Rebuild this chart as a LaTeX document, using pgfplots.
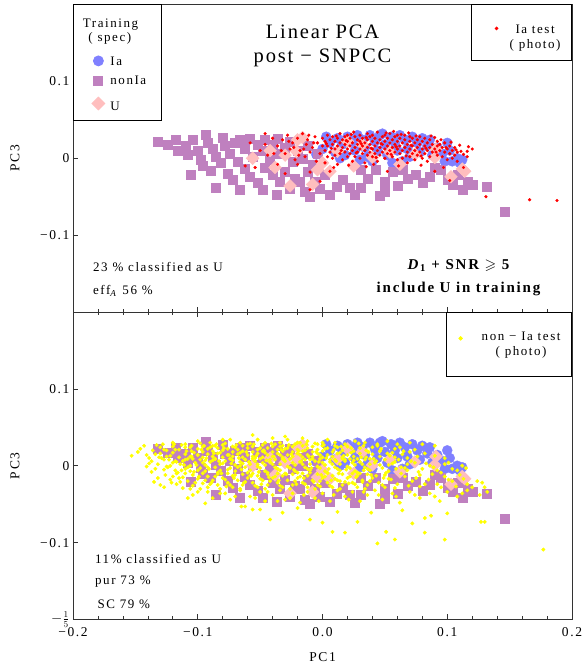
\documentclass[border=0pt]{standalone}
\usepackage{pgfplots}
\pgfplotsset{compat=1.18}
\usepackage{pgfplotstable}
\usepackage{amssymb}
\usepackage{array}
\usepackage{fontspec}
\setmainfont{Liberation Serif}[LetterSpace=12]
\newfontfamily\titlefont{Liberation Serif}[LetterSpace=9]
\definecolor{iacol}{RGB}{128,128,255}
\definecolor{noniacol}{RGB}{191,128,191}
\definecolor{ucol}{RGB}{255,190,190}
\definecolor{ytest}{RGB}{255,255,0}

\pgfplotstableread{
x y
-0.132 0.022
-0.124 0.017
-0.118 0.024
-0.116 0.010
-0.110 0.016
-0.108 0.004
-0.104 0.024
-0.100 0.010
-0.098 -0.002
-0.094 0.031
-0.092 0.020
-0.088 0.012
-0.086 0.002
-0.080 0.027
-0.078 0.016
-0.074 0.006
-0.070 0.020
-0.068 -0.004
-0.066 0.024
-0.062 0.012
-0.058 0.026
-0.056 0.002
-0.052 0.018
-0.048 0.010
-0.046 0.024
-0.042 -0.002
-0.040 0.018
-0.036 0.026
-0.034 0.006
-0.030 0.014
-0.026 0.022
-0.024 -0.004
-0.020 0.010
-0.016 0.000
-0.012 0.016
-0.008 -0.008
-0.004 0.006
-0.106 -0.021
-0.096 -0.010
-0.090 -0.016
-0.086 -0.038
-0.082 -0.006
-0.076 -0.020
-0.072 -0.028
-0.066 -0.041
-0.062 -0.014
-0.058 -0.024
-0.052 -0.032
-0.048 -0.041
-0.046 -0.012
-0.040 -0.022
-0.037 -0.047
-0.034 -0.030
-0.030 -0.018
-0.026 -0.040
-0.022 -0.026
-0.018 -0.030
-0.014 -0.044
-0.012 -0.018
-0.010 -0.050
-0.006 -0.030
-0.002 -0.040
0.002 -0.022
0.006 -0.047
0.011 -0.037
0.016 -0.028
0.022 -0.038
0.026 -0.048
0.031 -0.015
0.031 -0.038
0.036 -0.026
0.043 -0.015
0.046 -0.049
0.050 -0.043
0.050 -0.030
0.056 -0.017
0.060 -0.036
0.064 -0.015
0.068 -0.026
0.075 -0.021
0.080 -0.032
0.086 -0.024
0.090 -0.012
0.095 -0.015
0.100 -0.028
0.104 -0.034
0.108 -0.022
0.112 -0.041
0.116 -0.030
0.120 -0.034
0.132 -0.037
0.146 -0.069
}\nonIaTab

\pgfplotstableread{
x y
-0.005 0.005
0.000 0.012
0.003 0.028
0.006 0.020
0.010 0.008
0.012 0.026
0.014 0.000
0.016 0.018
0.018 0.004
0.020 0.028
0.024 0.022
0.026 0.010
0.028 0.030
0.030 -0.002
0.032 0.024
0.034 0.014
0.036 0.002
0.038 0.030
0.040 -0.004
0.042 0.022
0.044 0.010
0.046 0.030
0.048 0.032
0.050 0.018
0.052 0.004
0.055 0.028
0.056 -0.006
0.058 0.020
0.060 0.010
0.062 0.030
0.064 -0.004
0.066 0.024
0.068 0.012
0.070 0.002
0.072 0.028
0.076 0.020
0.078 0.008
0.080 0.026
0.084 0.016
0.086 0.024
0.088 0.004
0.092 0.014
0.096 0.006
0.098 -0.004
0.100 0.020
0.102 0.010
0.104 -0.004
0.108 0.000
0.110 -0.006
0.112 -0.002
}\IaTab

\pgfplotstableread{
x y
-0.056 0.000
-0.042 0.010
-0.038 -0.012
-0.030 0.004
-0.026 -0.036
-0.021 0.009
-0.020 0.024
-0.016 0.027
-0.008 -0.034
-0.004 -0.015
0.000 -0.006
0.006 -0.017
0.012 0.009
0.020 0.022
0.025 -0.010
0.032 0.018
0.040 0.001
0.054 0.008
0.062 -0.008
0.074 0.005
0.090 0.001
0.091 0.012
0.103 -0.024
0.112 -0.014
0.114 -0.017
}\UTab

\pgfplotsset{
  panel/.style={
    width=499pt, height=307.5pt, scale only axis,
    xmin=-0.2, xmax=0.2, ymin=-0.2, ymax=0.2,
    tick align=inside,
    major tick length=5pt, minor tick length=3pt,
    xtick={-0.2,-0.1,0,0.1,0.2}, minor x tick num=4,
    ytick pos=left,
    axis line style={black!80, line width=0.8pt},
    tick style={black!80, line width=0.6pt},
    tick label style={font=\fontsize{13.5}{16}\selectfont},
    label style={font=\fontsize{13.5}{16}\selectfont},
    ylabel={PC3},
    ylabel style={at={(axis description cs:0,0.5)}, anchor=center, yshift=58pt},
  },
  nonia/.style={only marks, mark=square*, mark size=4.5pt, mark options={draw=noniacol, fill=noniacol}},
  ia/.style={only marks, mark=*, mark size=5pt, mark options={draw=iacol, fill=iacol}},
  ucl/.style={only marks, mark=square*, mark size=4.5pt, mark options={draw=ucol, fill=ucol, rotate=45}},
  % legend image: width, mark x, depth, height
  limg/.style n args={4}{legend image code/.code={\path[draw=none,fill=none] (0pt,-#3) rectangle (#1,#4); \draw[##1] plot coordinates {(#2,4.5pt)};}},
  boxlegend/.style={draw=black, line width=0.8pt, nodes={inner sep=0pt, text depth=, text height=}, column sep=0pt, row sep=0pt,
     font=\fontsize{13}{15}\selectfont},
}

\begin{document}
\begin{tikzpicture}
\useasboundingbox (-73pt,-49.5pt) rectangle (510pt,619.5pt);

% ---------------- top panel ----------------
\begin{axis}[panel, at={(0pt,307.5pt)}, anchor=south west,
  xtick pos=bottom, xticklabels={},
  ytick={-0.1,0,0.1}, yticklabels={−0.1,0,0.1},
  legend style={boxlegend, at={(0,1)}, anchor=north west, inner xsep=6pt, inner ysep=4pt},
  legend cell align=left]
\addlegendimage{empty legend}
\addlegendentry{\rule[-4pt]{0pt}{22.5pt}\hspace*{-27.5pt}Training}
\addlegendimage{empty legend}
\addlegendentry{\rule[-14pt]{0pt}{24pt}\hspace*{-22pt}( spec)}
\addplot[ia, limg={31pt}{19pt}{9pt}{10pt}] table {\IaTab};
\addlegendentry{\rule[-9pt]{0pt}{19pt}Ia}
\addplot[nonia, limg={31pt}{19pt}{11.5pt}{10pt}] table {\nonIaTab};
\addlegendentry{\rule[-11.5pt]{0pt}{21.5pt}\makebox[45pt][l]{nonIa}}
\addplot[ucl, limg={31pt}{19pt}{6pt}{10pt}] table {\UTab};
\addlegendentry{\rule[-6pt]{0pt}{16pt}U}
\node[font=\fontsize{20.5}{24}\titlefont] at (axis cs:0,0.1645) {Linear PCA};
\node[font=\fontsize{20.5}{24}\titlefont] at (axis cs:0,0.1308) {post − SNPCC};
\node[anchor=west, inner sep=0pt, font=\fontsize{13}{15}\selectfont] at (axis cs:-0.184,-0.142) {23 \% classified as U};
\node[anchor=west, inner sep=0pt, font=\fontsize{13}{15}\selectfont] at (axis cs:-0.184,-0.173) {eff\textsubscript{\textit{A}} 56 \%};
\node[font=\fontsize{15}{17}\selectfont\bfseries] at (axis cs:0.109,-0.1394) {\textit{D}\textsubscript{1} + SNR $\geqslant$ 5};
\node[font=\fontsize{15}{17}\selectfont\bfseries] at (axis cs:0.109,-0.1705) {include U in training};
\end{axis}

\begin{axis}[panel, at={(0pt,307.5pt)}, anchor=south west, hide axis,
  legend style={boxlegend, at={(1,1)}, anchor=north east, inner xsep=6pt, inner ysep=0pt}]
\addplot[only marks, mark=*, mark size=1.4pt, mark options={draw=red, fill=red}, limg={27pt}{19pt}{27pt}{28pt}] coordinates {
(-0.062,-0.010)(-0.054,-0.012)(-0.046,0.032)(-0.040,0.026)(-0.036,0.016)(-0.032,0.024)(-0.030,0.006)(-0.028,0.030)(-0.026,0.012)(-0.024,0.020)(-0.022,-0.002)(-0.020,0.026)(-0.018,0.010)(-0.016,0.032)(-0.014,0.002)(-0.013,0.018)(-0.012,0.024)(-0.010,0.008)(-0.010,-0.018)(-0.010,-0.041)(-0.008,0.014)(-0.006,0.028)(-0.005,-0.004)(-0.004,0.020)(-0.002,0.006)(-0.002,-0.030)(0.000,0.016)(0.000,0.026)(-0.046,0.018)(-0.044,0.004)(-0.036,-0.008)(-0.050,0.010)(-0.058,0.020)(-0.030,-0.020)(-0.020,-0.008)
(0.002,0.010)(0.002,0.022)(0.002,-0.006)(0.004,0.030)(0.004,0.016)(0.004,0.002)(0.006,0.008)(0.006,0.024)(0.006,-0.017)(0.008,0.018)(0.008,0.000)(0.008,0.028)(0.010,0.012)(0.010,0.022)(0.010,0.004)(0.012,0.026)(0.012,0.016)(0.012,-0.008)(0.014,0.006)(0.014,0.020)(0.014,0.032)(0.016,0.014)(0.016,0.024)(0.016,-0.002)(0.018,0.008)(0.018,0.018)(0.018,0.028)
(0.020,0.002)(0.020,0.012)(0.020,0.022)(0.020,0.030)(0.022,0.016)(0.022,0.026)(0.022,0.006)(0.024,0.010)(0.024,0.020)(0.024,-0.004)(0.026,0.014)(0.026,0.028)(0.026,0.002)(0.028,0.018)(0.028,0.024)(0.028,0.008)(0.030,0.012)(0.030,0.030)(0.030,0.000)(0.030,0.022)(0.032,0.016)(0.032,0.006)(0.032,0.026)(0.034,0.020)(0.034,0.010)(0.034,-0.006)(0.035,-0.011)
(0.036,0.014)(0.036,0.024)(0.036,0.032)(0.036,0.004)(0.038,0.018)(0.038,0.008)(0.038,0.028)(0.040,0.012)(0.040,0.022)(0.040,0.002)(0.040,0.030)(0.042,0.016)(0.042,0.026)(0.042,0.006)(0.044,0.010)(0.044,0.020)(0.044,-0.004)(0.044,0.034)(0.046,0.014)(0.046,0.024)(0.046,0.004)(0.048,0.018)(0.048,0.028)(0.048,0.008)
(0.050,0.012)(0.050,0.022)(0.050,0.000)(0.050,0.030)(0.052,0.016)(0.052,0.026)(0.052,0.006)(0.052,-0.017)(0.054,0.010)(0.054,0.020)(0.054,0.032)(0.056,0.014)(0.056,0.024)(0.056,0.002)(0.058,0.018)(0.058,0.008)(0.058,0.028)(0.060,0.012)(0.060,0.022)(0.060,-0.002)(0.060,0.030)(0.062,0.016)(0.062,0.026)(0.062,0.006)
(0.064,0.010)(0.064,0.020)(0.064,0.000)(0.066,0.014)(0.066,0.024)(0.066,0.030)(0.068,0.018)(0.068,0.008)(0.068,-0.006)(0.070,0.012)(0.070,0.022)(0.070,0.002)(0.070,0.028)(0.072,0.016)(0.072,0.026)(0.072,0.006)(0.074,0.010)(0.074,0.020)(0.074,-0.002)(0.076,0.014)(0.076,0.024)(0.076,0.004)(0.078,0.018)(0.078,0.008)(0.078,0.028)
(0.080,0.012)(0.080,0.022)(0.080,0.000)(0.082,0.016)(0.082,0.006)(0.082,0.026)(0.084,0.010)(0.084,0.020)(0.084,-0.004)(0.086,0.014)(0.086,0.024)(0.086,0.002)(0.088,0.018)(0.088,0.008)(0.090,0.012)(0.090,0.027)(0.090,-0.017)(0.092,0.016)(0.092,0.004)(0.092,0.022)(0.094,0.010)(0.094,0.018)(0.096,0.014)(0.096,0.002)(0.098,0.008)(0.098,0.020)
(0.100,0.012)(0.100,-0.002)(0.102,0.016)(0.102,-0.029)(0.102,0.006)(0.104,0.010)(0.104,0.000)(0.106,0.014)(0.106,0.004)(0.108,0.008)(0.108,-0.004)(0.111,0.009)(0.116,0.009)(0.116,0.002)(0.120,0.012)(0.131,-0.050)(0.166,-0.054)(0.188,-0.055)
(0.003,0.019)(0.007,0.013)(0.011,0.029)(0.015,0.010)(0.019,0.023)(0.023,0.031)(0.027,0.007)(0.031,0.019)(0.035,0.027)(0.039,0.013)(0.043,0.001)(0.047,0.019)(0.051,0.033)(0.055,0.005)(0.059,0.015)(0.063,0.031)(0.067,0.003)(0.071,0.017)(0.075,0.029)(0.079,0.003)(0.083,0.013)(0.087,0.029)(0.091,0.008)(0.095,0.024)(0.099,0.014)(0.103,0.021)(0.107,0.011)(0.110,0.017)(0.113,0.005)(0.117,0.015)
(-0.007,0.020)(-0.011,0.030)(-0.015,0.012)(-0.019,0.004)(-0.023,0.014)(-0.027,0.022)(-0.033,0.010)(-0.039,0.006)(0.009,-0.012)(0.021,-0.009)(0.041,-0.008)(0.061,-0.010)(0.079,-0.009)(0.097,-0.012)(0.113,-0.012)(0.025,0.034)(0.057,0.035)(0.069,0.033)
};
\addlegendentry{\rule[-27pt]{0pt}{55pt}\begin{tabular}[t]{@{}>{\centering\arraybackslash}p{61pt}@{}}Ia test\\( photo)\end{tabular}}
\end{axis}

% ---------------- bottom panel ----------------
\begin{axis}[panel, at={(0pt,0pt)}, anchor=south west,
  xtick pos=both, xticklabels={−0.2,−0.1,0.0,0.1,0.2},
  xticklabel style={yshift=-4pt},
  ytick={-0.2,-0.1,0,0.1}, yticklabels={$-\frac{1}{5}$,−0.1,0,0.1},
  xlabel={PC1},
  xlabel style={at={(axis description cs:0.5,0)}, anchor=center, yshift=-37.5pt},
  legend style={boxlegend, at={(1,1)}, anchor=north east, inner xsep=6pt, inner ysep=0pt}]
\addplot[ia, forget plot] table {\IaTab};
\addplot[nonia, forget plot] table {\nonIaTab};
\addplot[ucl, forget plot] table {\UTab};
\addplot[only marks, mark=*, mark size=1.75pt, mark options={draw=ytest, fill=ytest}, limg={24pt}{8pt}{33pt}{28pt}] coordinates {
(-0.133,0.027)(-0.120,0.030)(-0.110,0.028)(-0.100,0.032)(-0.090,0.030)(-0.080,0.034)(-0.074,0.034)(-0.066,0.030)(-0.056,0.040)(-0.052,0.034)(-0.046,0.030)(-0.040,0.036)(-0.034,0.030)(-0.028,0.034)(-0.020,0.030)(-0.012,0.032)(-0.004,0.028)(0.004,0.034)(0.010,0.030)(0.018,0.028)(0.026,0.032)(0.034,0.030)(0.044,0.028)(0.052,0.032)(0.060,0.028)(0.070,0.030)(0.080,0.028)(0.090,0.026)(-0.060,0.028)(-0.086,0.026)(-0.106,0.024)(-0.016,0.036)(0.000,0.030)(-0.030,0.038)
(-0.153,0.013)(-0.146,0.022)(-0.141,0.014)(-0.136,0.020)(-0.130,0.016)(-0.130,0.024)(-0.125,0.012)(-0.125,0.020)(-0.120,0.017)(-0.120,0.025)(-0.115,0.011)(-0.115,0.021)(-0.110,0.015)(-0.110,0.024)(-0.105,0.012)(-0.105,0.019)(-0.105,0.026)(-0.100,0.014)(-0.100,0.022)(-0.096,0.011)(-0.096,0.018)(-0.096,0.025)(-0.092,0.015)(-0.092,0.022)(-0.088,0.012)(-0.088,0.019)(-0.088,0.026)(-0.084,0.016)(-0.084,0.023)(-0.080,0.011)(-0.080,0.020)(-0.080,0.027)
(-0.076,0.014)(-0.076,0.022)(-0.072,0.012)(-0.072,0.018)(-0.072,0.025)(-0.068,0.015)(-0.068,0.021)(-0.064,0.011)(-0.064,0.019)(-0.064,0.026)(-0.060,0.014)(-0.060,0.023)(-0.056,0.012)(-0.056,0.018)(-0.056,0.025)(-0.052,0.016)(-0.052,0.021)(-0.048,0.011)(-0.048,0.019)(-0.048,0.027)(-0.044,0.014)(-0.044,0.023)(-0.040,0.012)(-0.040,0.018)(-0.040,0.025)(-0.036,0.016)(-0.036,0.021)
(-0.032,0.011)(-0.032,0.019)(-0.032,0.026)(-0.028,0.014)(-0.028,0.023)(-0.024,0.012)(-0.024,0.018)(-0.024,0.025)(-0.020,0.016)(-0.020,0.021)(-0.016,0.011)(-0.016,0.019)(-0.016,0.026)(-0.012,0.014)(-0.012,0.023)(-0.008,0.012)(-0.008,0.018)(-0.008,0.025)(-0.004,0.016)(-0.004,0.021)(0.000,0.011)(0.000,0.019)(0.000,0.026)(0.004,0.014)(0.004,0.023)
(0.008,0.012)(0.008,0.018)(0.012,0.016)(0.012,0.024)(0.016,0.011)(0.016,0.020)(0.020,0.014)(0.020,0.025)(0.025,0.012)(0.025,0.019)(0.030,0.016)(0.030,0.023)(0.035,0.011)(0.035,0.020)(0.040,0.015)(0.040,0.024)(0.046,0.012)(0.046,0.019)(0.052,0.016)(0.058,0.011)(0.058,0.022)(0.064,0.015)(0.070,0.018)(0.076,0.012)(0.082,0.016)(0.090,0.013)(0.098,0.010)
(-0.141,-0.001)(-0.137,-0.008)(-0.137,0.006)(-0.132,0.002)(-0.127,-0.005)(-0.127,0.008)(-0.122,0.000)(-0.118,-0.006)(-0.118,0.006)(-0.114,0.002)(-0.110,-0.004)(-0.110,0.008)(-0.106,0.000)(-0.106,-0.007)(-0.102,0.004)(-0.098,-0.003)(-0.098,0.008)(-0.094,0.001)(-0.094,-0.007)(-0.090,0.005)(-0.086,-0.002)(-0.086,0.009)(-0.082,0.002)(-0.082,-0.006)(-0.078,0.006)
(-0.074,-0.003)(-0.074,0.009)(-0.070,0.001)(-0.070,-0.007)(-0.066,0.005)(-0.062,-0.002)(-0.062,0.008)(-0.058,0.002)(-0.058,-0.006)(-0.054,0.006)(-0.050,-0.003)(-0.050,0.009)(-0.046,0.001)(-0.046,-0.007)(-0.042,0.005)(-0.038,-0.002)(-0.038,0.008)(-0.034,0.002)(-0.034,-0.006)(-0.030,0.006)(-0.026,-0.003)(-0.026,0.009)(-0.022,0.001)(-0.022,-0.007)(-0.018,0.005)
(-0.014,-0.002)(-0.014,0.008)(-0.010,0.002)(-0.010,-0.006)(-0.006,0.006)(-0.002,-0.003)(-0.002,0.009)(0.002,0.001)(0.002,-0.007)(0.006,0.005)(0.010,-0.002)(0.010,0.008)(0.014,0.002)(0.014,-0.006)(0.018,0.006)(0.022,-0.003)(0.022,0.009)(0.026,0.001)(0.026,-0.007)(0.030,0.005)(0.034,-0.002)(0.034,0.008)(0.038,0.002)(0.038,-0.006)
(0.043,0.006)(0.048,-0.003)(0.053,0.001)(0.053,-0.007)(0.058,0.005)(0.063,-0.002)(0.068,0.002)(0.068,-0.006)(0.074,0.004)(0.080,-0.004)(0.086,0.000)(0.092,-0.006)(0.098,0.002)(0.104,-0.004)(0.112,0.000)
(-0.135,-0.021)(-0.130,-0.025)(-0.126,-0.012)(-0.122,-0.018)(-0.117,-0.024)(-0.117,-0.010)(-0.112,-0.029)(-0.112,-0.015)(-0.108,-0.020)(-0.104,-0.012)(-0.104,-0.026)(-0.100,-0.017)(-0.096,-0.023)(-0.096,-0.010)(-0.092,-0.014)(-0.092,-0.028)(-0.088,-0.019)(-0.084,-0.011)(-0.084,-0.025)(-0.080,-0.016)
(-0.076,-0.022)(-0.076,-0.010)(-0.072,-0.013)(-0.072,-0.028)(-0.068,-0.019)(-0.064,-0.011)(-0.064,-0.025)(-0.060,-0.016)(-0.056,-0.022)(-0.056,-0.010)(-0.052,-0.013)(-0.052,-0.028)(-0.048,-0.019)(-0.044,-0.011)(-0.044,-0.025)(-0.040,-0.016)(-0.036,-0.022)(-0.036,-0.010)(-0.032,-0.013)(-0.032,-0.028)
(-0.028,-0.019)(-0.024,-0.011)(-0.024,-0.025)(-0.020,-0.016)(-0.016,-0.022)(-0.016,-0.010)(-0.012,-0.013)(-0.012,-0.028)(-0.008,-0.019)(-0.004,-0.011)(-0.004,-0.025)(0.000,-0.016)(0.004,-0.022)(0.004,-0.010)(0.008,-0.013)(0.008,-0.028)(0.012,-0.019)(0.016,-0.011)(0.016,-0.025)(0.020,-0.016)
(0.024,-0.022)(0.024,-0.010)(0.028,-0.013)(0.028,-0.028)(0.032,-0.019)(0.036,-0.011)(0.036,-0.025)(0.040,-0.016)(0.045,-0.022)(0.050,-0.012)(0.050,-0.028)(0.055,-0.018)(0.060,-0.024)(0.066,-0.014)(0.072,-0.020)(0.078,-0.012)(0.078,-0.027)(0.085,-0.018)(0.092,-0.024)(0.098,-0.014)(0.104,-0.020)(0.110,-0.012)(0.116,-0.024)(0.124,-0.020)(0.130,-0.028)
(-0.108,-0.042)(-0.100,-0.034)(-0.094,-0.049)(-0.088,-0.042)(-0.082,-0.036)(-0.074,-0.044)(-0.066,-0.032)(-0.062,-0.053)(-0.058,-0.040)(-0.050,-0.034)(-0.046,-0.046)(-0.040,-0.038)(-0.034,-0.032)(-0.030,-0.044)(-0.024,-0.036)(-0.018,-0.048)(-0.012,-0.034)(-0.006,-0.042)(0.000,-0.036)
(0.006,-0.046)(0.012,-0.032)(0.018,-0.040)(0.024,-0.034)(0.030,-0.046)(0.036,-0.038)(0.042,-0.032)(0.048,-0.044)(0.056,-0.036)(0.062,-0.048)(0.070,-0.034)(0.078,-0.042)(0.086,-0.036)(0.094,-0.046)(0.100,-0.034)(0.108,-0.040)(0.116,-0.032)(0.126,-0.038)(0.132,-0.034)
(-0.065,-0.053)(-0.056,-0.057)(-0.050,-0.057)(-0.042,-0.070)(-0.032,-0.061)(-0.010,-0.070)(0.000,-0.074)(0.008,-0.086)(0.018,-0.087)(0.028,-0.073)(0.039,-0.061)(0.044,-0.101)(0.051,-0.086)(0.058,-0.096)(0.072,-0.075)(0.082,-0.068)(0.082,-0.087)(0.087,-0.065)(0.098,-0.096)(0.100,-0.062)(0.127,-0.073)(0.130,-0.073)(0.177,-0.109)(-0.020,-0.055)(0.012,-0.060)(0.064,-0.058)
(-0.148,0.018)(-0.143,0.026)(-0.139,0.010)(-0.134,0.015)(-0.128,0.028)(-0.123,0.008)(-0.118,0.021)(-0.113,0.027)(-0.108,0.009)(-0.103,0.017)(-0.098,0.029)(-0.094,0.007)(-0.090,0.024)(-0.086,0.009)(-0.082,0.017)(-0.078,0.029)(-0.074,0.009)(-0.070,0.024)(-0.066,0.017)(-0.062,0.008)(-0.058,0.029)(-0.054,0.010)(-0.050,0.023)(-0.046,0.017)(-0.042,0.008)
(-0.038,0.028)(-0.034,0.014)(-0.030,0.022)(-0.026,0.009)(-0.022,0.028)(-0.018,0.014)(-0.014,0.020)(-0.010,0.008)(-0.006,0.029)(-0.002,0.014)(0.002,0.022)(0.006,0.008)(0.010,0.026)(0.014,0.017)(0.018,0.008)(0.023,0.023)(0.028,0.009)(0.033,0.026)(0.038,0.009)(0.044,0.026)(0.050,0.008)(0.056,0.017)(0.062,0.024)(0.068,0.010)(0.074,0.021)
(-0.139,0.003)(-0.134,-0.004)(-0.129,0.010)(-0.124,-0.002)(-0.120,0.004)(-0.116,-0.009)(-0.112,0.006)(-0.108,-0.002)(-0.104,0.009)(-0.100,-0.006)(-0.096,0.004)(-0.092,-0.002)(-0.088,0.007)(-0.084,-0.009)(-0.080,0.003)(-0.076,-0.005)(-0.072,0.007)(-0.068,-0.002)(-0.064,0.003)(-0.060,-0.009)(-0.056,0.009)(-0.052,-0.001)(-0.048,0.004)(-0.044,-0.009)(-0.040,0.002)
(-0.036,-0.004)(-0.032,0.009)(-0.028,-0.001)(-0.024,0.004)(-0.020,-0.009)(-0.016,0.002)(-0.012,-0.004)(-0.008,0.009)(-0.004,-0.001)(0.000,0.004)(0.004,-0.009)(0.008,0.002)(0.012,-0.004)(0.016,0.009)(0.020,-0.001)(0.024,0.004)(0.028,-0.009)(0.032,0.002)(0.036,-0.004)(0.041,0.009)(0.046,0.001)(0.051,-0.009)(0.056,0.003)(0.061,0.008)(0.066,-0.003)(0.071,0.006)(0.077,-0.008)(0.083,0.003)(0.089,-0.002)(0.095,-0.009)(0.101,0.004)(0.108,-0.006)(0.115,-0.003)
(-0.132,-0.016)(-0.127,-0.028)(-0.120,-0.014)(-0.114,-0.021)(-0.110,-0.010)(-0.106,-0.030)(-0.102,-0.022)(-0.098,-0.030)(-0.094,-0.019)(-0.090,-0.024)(-0.086,-0.014)(-0.082,-0.030)(-0.078,-0.018)(-0.074,-0.025)(-0.070,-0.012)(-0.066,-0.030)(-0.062,-0.021)(-0.058,-0.013)(-0.054,-0.026)(-0.050,-0.017)(-0.046,-0.030)(-0.042,-0.020)(-0.038,-0.014)(-0.034,-0.026)(-0.030,-0.010)
(-0.026,-0.030)(-0.022,-0.020)(-0.018,-0.014)(-0.014,-0.024)(-0.010,-0.009)(-0.006,-0.030)(-0.002,-0.020)(0.002,-0.014)(0.006,-0.026)(0.010,-0.017)(0.014,-0.030)(0.018,-0.021)(0.022,-0.014)(0.026,-0.024)(0.030,-0.010)(0.034,-0.030)(0.038,-0.020)(0.043,-0.013)(0.048,-0.025)(0.053,-0.017)(0.058,-0.029)(0.063,-0.010)(0.069,-0.026)(0.075,-0.016)(0.082,-0.024)(0.088,-0.011)(0.095,-0.028)(0.101,-0.018)(0.107,-0.027)(0.113,-0.017)(0.120,-0.028)(0.128,-0.022)
(-0.104,-0.038)(-0.092,-0.034)(-0.078,-0.036)(-0.070,-0.040)(-0.054,-0.042)(-0.044,-0.034)(-0.036,-0.046)(-0.026,-0.042)(-0.015,-0.038)(-0.003,-0.046)(0.009,-0.038)(0.021,-0.044)(0.033,-0.034)(0.045,-0.038)(0.059,-0.040)(0.074,-0.038)(0.090,-0.040)(0.112,-0.036)
(-0.127,0.021)(-0.122,0.013)(-0.117,0.005)(-0.113,-0.006)(-0.109,0.019)(-0.106,0.012)(-0.101,0.001)(-0.099,-0.014)(-0.097,0.021)(-0.093,0.010)(-0.091,-0.004)(-0.089,-0.022)(-0.087,0.016)(-0.083,0.006)(-0.081,-0.010)(-0.079,0.023)(-0.077,-0.027)(-0.075,0.014)(-0.073,0.003)(-0.071,-0.016)(-0.069,0.027)(-0.067,0.010)(-0.065,-0.005)(-0.063,-0.022)
(-0.061,0.018)(-0.059,0.005)(-0.057,-0.013)(-0.055,0.028)(-0.053,0.013)(-0.051,-0.008)(-0.049,-0.024)(-0.047,0.020)(-0.045,0.007)(-0.043,-0.015)(-0.041,0.029)(-0.039,0.012)(-0.037,-0.003)(-0.035,-0.019)(-0.033,0.021)(-0.031,0.008)(-0.029,-0.011)(-0.027,0.027)(-0.025,0.015)(-0.023,-0.005)(-0.021,-0.024)(-0.019,0.019)(-0.017,0.006)(-0.015,-0.016)
(-0.013,0.028)(-0.011,0.012)(-0.009,-0.003)(-0.007,-0.021)(-0.005,0.018)(-0.003,0.005)(-0.001,-0.012)(0.001,0.027)(0.003,0.010)(0.005,-0.004)(0.007,-0.019)(0.009,0.021)(0.011,0.006)(0.013,-0.010)(0.015,0.025)(0.017,0.013)(0.019,-0.005)(0.021,-0.023)(0.023,0.017)(0.025,0.007)(0.027,-0.015)(0.029,0.029)(0.031,0.011)(0.033,-0.006)
(0.037,0.018)(0.039,-0.012)(0.042,0.004)(0.047,0.022)(0.049,-0.016)(0.054,0.013)(0.059,-0.004)(0.065,0.019)(-0.125,-0.001)(-0.121,-0.022)(-0.131,0.011)(-0.119,0.028)(-0.115,-0.016)(-0.111,0.001)(-0.103,-0.008)(-0.095,0.026)(-0.085,0.028)(-0.066,0.000)(-0.052,0.002)(-0.034,0.025)(-0.018,0.030)(-0.002,-0.027)(0.014,-0.020)(0.032,-0.021)
};
\addlegendentry{\rule[-33pt]{0pt}{61pt}\begin{tabular}[t]{@{}>{\centering\arraybackslash}p{89pt}@{}}non − Ia test\\( photo)\end{tabular}}
\node[anchor=west, inner sep=0pt, font=\fontsize{13}{15}\selectfont] at (axis cs:-0.1824,-0.121) {11\% classified as U};
\node[anchor=west, inner sep=0pt, font=\fontsize{13}{15}\selectfont] at (axis cs:-0.1824,-0.151) {pur 73 \%};
\node[anchor=west, inner sep=0pt, font=\fontsize{13}{15}\selectfont] at (axis cs:-0.1805,-0.1805) {SC 79 \%};
\end{axis}
\end{tikzpicture}
\end{document}
